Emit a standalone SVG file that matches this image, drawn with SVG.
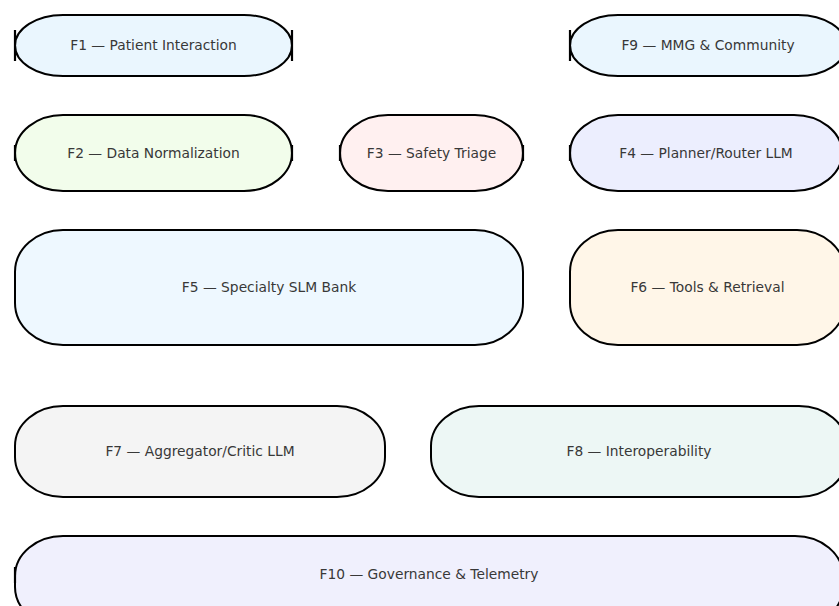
<svg xmlns="http://www.w3.org/2000/svg" width="839" height="606" viewBox="0 0 839 606">
<style>
.box{stroke:#000;stroke-width:2;}
.lbl{font-family:"DejaVu Sans",sans-serif;font-size:13.8px;fill:#383838;text-anchor:middle;dominant-baseline:central;}
.tick{stroke:#000;stroke-width:2.2;fill:none;}
</style>
<rect width="839" height="606" fill="#fff"/>
<g id="F1"><rect class="box" fill="#eaf6fe" x="15" y="15" width="277" height="61" rx="48" ry="30.5"/><text class="lbl" x="153.5" y="45">F1 — Patient Interaction</text></g>
<g id="F9"><rect class="box" fill="#eaf6fe" x="570" y="15" width="276" height="61" rx="48" ry="30.5"/><text class="lbl" x="708" y="45">F9 — MMG &amp; Community</text></g>
<g id="F2"><rect class="box" fill="#f2fdeb" x="15" y="115" width="277" height="76" rx="48" ry="38"/><text class="lbl" x="153.5" y="153">F2 — Data Normalization</text></g>
<g id="F3"><rect class="box" fill="#fff0f0" x="340" y="115" width="183" height="76" rx="48" ry="38"/><text class="lbl" x="431.5" y="153">F3 — Safety Triage</text></g>
<g id="F4"><rect class="box" fill="#eceefe" x="570" y="115" width="272" height="76" rx="48" ry="38"/><text class="lbl" x="706" y="153">F4 — Planner/Router LLM</text></g>
<g id="F5"><rect class="box" fill="#eef8ff" x="15" y="230" width="508" height="115" rx="48" ry="42"/><text class="lbl" x="269" y="287">F5 — Specialty SLM Bank</text></g>
<g id="F6"><rect class="box" fill="#fff6e8" x="570" y="230" width="275" height="115" rx="48" ry="42"/><text class="lbl" x="707.5" y="287">F6 — Tools &amp; Retrieval</text></g>
<g id="F7"><rect class="box" fill="#f4f4f4" x="15" y="406" width="370" height="91" rx="48" ry="40"/><text class="lbl" x="200" y="451">F7 — Aggregator/Critic LLM</text></g>
<g id="F8"><rect class="box" fill="#edf7f5" x="431" y="406" width="416" height="91" rx="48" ry="40"/><text class="lbl" x="639" y="451">F8 — Interoperability</text></g>
<g id="F10"><rect class="box" fill="#f0f0fd" x="15" y="536" width="828" height="91" rx="48" ry="40"/><text class="lbl" x="429" y="574">F10 — Governance &amp; Telemetry</text></g>
<g id="connectors">
<line class="tick" x1="15" y1="30" x2="15" y2="61"/>
<line class="tick" x1="292" y1="30" x2="292" y2="61"/>
<line class="tick" x1="570" y1="30" x2="570" y2="61"/>
<line class="tick" x1="15" y1="145" x2="15" y2="161"/>
<line class="tick" x1="292" y1="145" x2="292" y2="161"/>
<line class="tick" x1="340" y1="145" x2="340" y2="161"/>
<line class="tick" x1="523" y1="145" x2="523" y2="161"/>
<line class="tick" x1="570" y1="145" x2="570" y2="161"/>
<line class="tick" x1="15" y1="567" x2="15" y2="583"/>
</g>
</svg>
